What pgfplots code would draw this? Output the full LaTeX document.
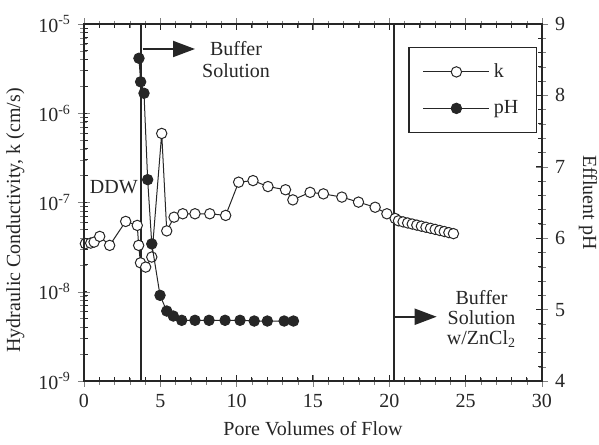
\documentclass[border=0pt]{standalone}
\usepackage{fontspec}
\setmainfont{Liberation Serif}
\usepackage{pgfplots}
\pgfplotsset{compat=1.18}
\usetikzlibrary{arrows.meta}

\definecolor{ink}{gray}{0.15}

\begin{document}
\begin{tikzpicture}
% hydraulic conductivity, log axis on the left
\begin{axis}[
  width=229pt, height=178.5pt, scale only axis,
  xmin=0, xmax=30,
  ymode=log, ymin=1e-9, ymax=1e-5,
  tick align=center, major tick length=6pt, minor tick length=3.5pt,
  axis line style={ink, line width=0.6pt},
  every tick label/.append style={font=\fontsize{10}{12}\selectfont, text=ink},
  every axis label/.append style={font=\fontsize{10}{12}\selectfont, text=ink},
  xtick={0,5,10,15,20,25,30},
  xticklabels={0,5,10,15,20,25,30},
  minor xtick={1,2,3,4,6,7,8,9,11,12,13,14,16,17,18,19,21,22,23,24,26,27,28,29},
  ytick={1e-9,1e-8,1e-7,1e-6,1e-5},
  yticklabels={10\textsuperscript{-9},10\textsuperscript{-8},10\textsuperscript{-7},10\textsuperscript{-6},10\textsuperscript{-5}},
  minor ytick={2e-9,3e-9,4e-9,5e-9,6e-9,7e-9,8e-9,9e-9,
               2e-8,3e-8,4e-8,5e-8,6e-8,7e-8,8e-8,9e-8,
               2e-7,3e-7,4e-7,5e-7,6e-7,7e-7,8e-7,9e-7,
               2e-6,3e-6,4e-6,5e-6,6e-6,7e-6,8e-6,9e-6},
  xtick pos=both, ytick pos=left,
  xlabel={Pore Volumes of Flow},
  ylabel={Hydraulic Conductivity, k (cm/s)},
  ylabel style={at={(ticklabel cs:0.45)}},
  legend style={at={(0.989,0.936)}, anchor=north east, draw=ink, line width=0.6pt,
    font=\fontsize{10}{12}\selectfont, text=ink,
    inner xsep=7pt, inner ysep=6pt, row sep=6pt},
  legend cell align=left,
  legend image code/.code={\draw[mark repeat=2,mark phase=2,#1] plot coordinates {(0pt,0pt) (16.5pt,0pt) (33pt,0pt)};},
]
% tick marks crossing the frame
\pgfplotsinvokeforeach{0,5,10,15,20,25,30}{
  \draw[ink, line width=0.5pt] ([yshift=-2.8pt]axis cs:#1,1e-9) -- ([yshift=2.8pt]axis cs:#1,1e-9);
  \draw[ink, line width=0.5pt] ([yshift=-2.8pt]axis cs:#1,1e-5) -- ([yshift=2.8pt]axis cs:#1,1e-5);
}
\pgfplotsinvokeforeach{1,2,3,4,6,7,8,9,11,12,13,14,16,17,18,19,21,22,23,24,26,27,28,29}{
  \draw[ink, line width=0.5pt] ([yshift=-1.8pt]axis cs:#1,1e-9) -- ([yshift=1.8pt]axis cs:#1,1e-9);
  \draw[ink, line width=0.5pt] ([yshift=-1.8pt]axis cs:#1,1e-5) -- ([yshift=1.8pt]axis cs:#1,1e-5);
}
\pgfplotsinvokeforeach{1e-9,1e-8,1e-7,1e-6,1e-5}{
  \draw[ink, line width=0.5pt] ([xshift=-4pt]axis cs:0,#1) -- ([xshift=1.5pt]axis cs:0,#1);
}
\pgfplotsinvokeforeach{2e-9,3e-9,4e-9,5e-9,6e-9,7e-9,8e-9,9e-9,
               2e-8,3e-8,4e-8,5e-8,6e-8,7e-8,8e-8,9e-8,
               2e-7,3e-7,4e-7,5e-7,6e-7,7e-7,8e-7,9e-7,
               2e-6,3e-6,4e-6,5e-6,6e-6,7e-6,8e-6,9e-6}{
  \draw[ink, line width=0.5pt] ([xshift=-1.8pt]axis cs:0,#1) -- ([xshift=1.8pt]axis cs:0,#1);
}
\draw[ink, line width=1.1pt] (axis cs:3.75,1e-9) -- (axis cs:3.75,1e-5);
\draw[ink, line width=1.1pt] (axis cs:20.3,1e-9) -- (axis cs:20.3,1e-5);
\addplot[ink, line width=0.5pt, mark=*, mark size=2.6pt, mark options={fill=white, solid}] coordinates {
  (0.09,3.46e-8) (0.44,3.51e-8) (0.66,3.60e-8) (1.03,4.17e-8) (1.68,3.31e-8)
  (2.73,6.14e-8) (3.49,5.54e-8) (3.58,3.31e-8) (3.70,2.11e-8) (4.04,1.89e-8)
  (4.44,2.45e-8) (5.09,5.94e-7) (5.42,4.81e-8) (5.90,6.85e-8) (6.47,7.48e-8)
  (7.27,7.48e-8) (8.24,7.48e-8) (9.28,7.17e-8) (10.13,1.69e-7) (11.07,1.76e-7)
  (12.05,1.51e-7) (13.20,1.39e-7) (13.68,1.07e-7) (14.81,1.30e-7) (15.68,1.25e-7)
  (16.89,1.15e-7) (17.98,1.01e-7) (19.07,8.85e-8) (19.84,7.48e-8) (20.38,6.63e-8)
  (20.6,6.24e-8) (20.9,6.07e-8) (21.2,5.90e-8) (21.5,5.74e-8) (21.8,5.58e-8)
  (22.1,5.43e-8) (22.4,5.28e-8) (22.7,5.14e-8) (23.0,5.00e-8) (23.3,4.86e-8)
  (23.6,4.73e-8) (23.9,4.60e-8) (24.2,4.48e-8)
};
\addlegendentry{k}
\addlegendimage{ink, line width=0.5pt, mark=*, mark size=2.6pt, mark options={fill=ink, solid}}
\addlegendentry{pH}
\end{axis}
% effluent pH, linear axis on the right
\begin{axis}[
  width=229pt, height=178.5pt, scale only axis,
  xmin=0, xmax=30, ymin=4, ymax=9,
  tick align=center, major tick length=6pt, minor tick length=3.5pt,
  axis line style={ink, line width=0.6pt},
  every tick label/.append style={font=\fontsize{10}{12}\selectfont, text=ink},
  every axis label/.append style={font=\fontsize{10}{12}\selectfont, text=ink},
  xtick=\empty,
  ytick={4,5,6,7,8,9}, yticklabels={4,5,6,7,8,9},
  minor ytick={4.2,4.4,4.6,4.8,5.2,5.4,5.6,5.8,6.2,6.4,6.6,6.8,7.2,7.4,7.6,7.8,8.2,8.4,8.6,8.8},
  ytick pos=right, yticklabel pos=right,
  ylabel={Effluent pH}, ylabel near ticks,
  ylabel style={rotate=180},
]
\pgfplotsinvokeforeach{4,5,6,7,8,9}{
  \draw[ink, line width=0.5pt] ([xshift=-2.8pt]axis cs:30,#1) -- ([xshift=2.8pt]axis cs:30,#1);
}
\pgfplotsinvokeforeach{4.2,4.4,4.6,4.8,5.2,5.4,5.6,5.8,6.2,6.4,6.6,6.8,7.2,7.4,7.6,7.8,8.2,8.4,8.6,8.8}{
  \draw[ink, line width=0.5pt] ([xshift=-1.8pt]axis cs:30,#1) -- ([xshift=1.8pt]axis cs:30,#1);
}
\addplot[ink, line width=0.5pt, mark=*, mark size=2.6pt, mark options={fill=ink, solid}] coordinates {
  (3.60,8.52) (3.71,8.19) (3.93,8.03) (4.17,6.82) (4.44,5.92) (4.98,5.20)
  (5.42,4.98) (5.85,4.91) (6.40,4.85) (7.27,4.85) (8.19,4.85) (9.24,4.85)
  (10.22,4.85) (11.15,4.84) (12.01,4.84) (13.11,4.84) (13.72,4.84)
};
\draw[ink, line width=1pt, -{Triangle[length=11pt,width=8pt]}] (rel axis cs:0.128,0.930) -- (rel axis cs:0.2424,0.930);
\node[ink, align=center, font=\fontsize{10}{11}\selectfont] at (rel axis cs:0.332,0.899) {Buffer\\Solution};
\node[ink, anchor=west, inner sep=0pt, font=\fontsize{10}{12}\selectfont] at (rel axis cs:0.012,0.543) {DDW};
\draw[ink, line width=1pt, -{Triangle[length=11pt,width=8pt]}] (rel axis cs:0.6775,0.180) -- (rel axis cs:0.770,0.180);
\node[ink, align=center, font=\fontsize{10}{10}\selectfont] at (rel axis cs:0.868,0.174) {Buffer\\Solution\\w/ZnCl\textsubscript{2}};
\end{axis}
\pgfresetboundingbox
\path[use as bounding box] ([xshift=-42pt,yshift=-31.5pt]current axis.south west) rectangle ([xshift=28.5pt,yshift=12pt]current axis.north east);
\end{tikzpicture}
\end{document}
